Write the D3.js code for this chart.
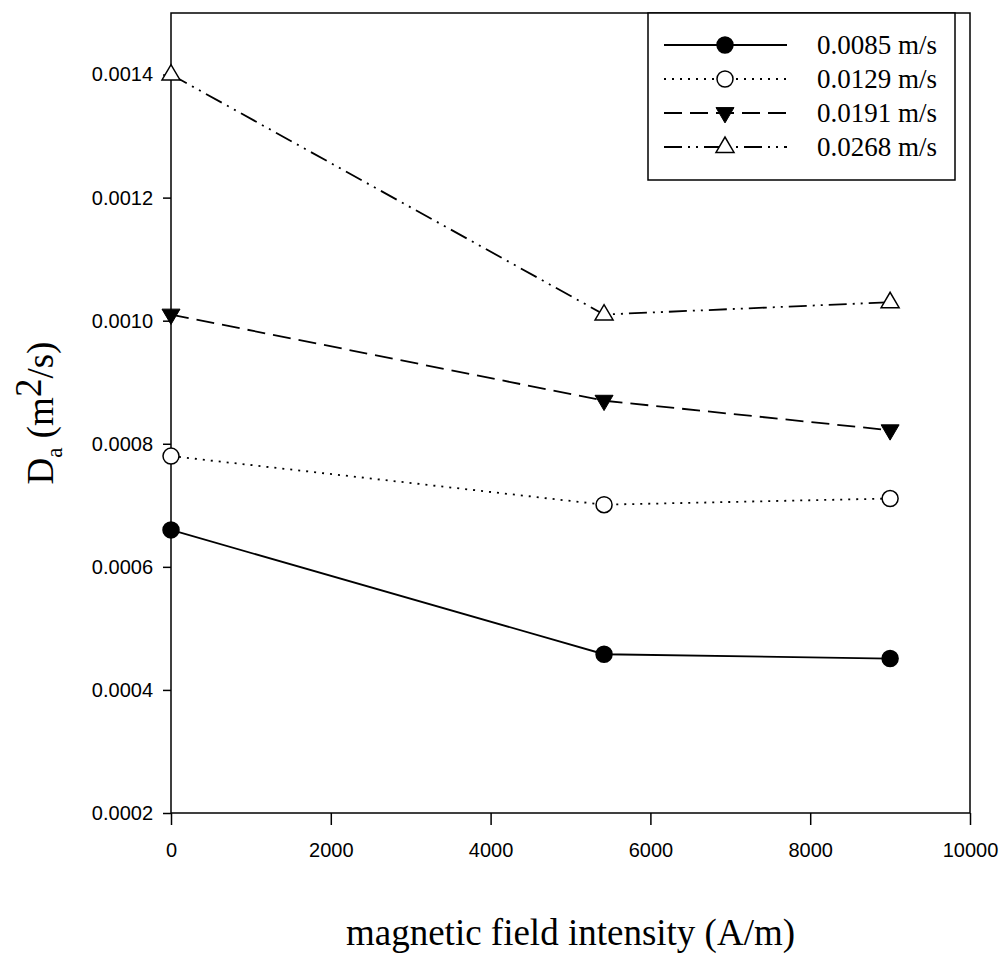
<!DOCTYPE html>
<html>
<head>
<meta charset="utf-8">
<script src="https://cdn.jsdelivr.net/npm/d3@7"></script>
<style>
  html, body { margin: 0; padding: 0; background: #fff; }
  svg { display: block; }
</style>
</head>
<body>
<svg id="chart" width="1006" height="956"></svg>
<script>
// ---- data ----
const fieldIntensity = [0, 5420, 9000];
const seriesNames = ["0.0085 m/s", "0.0129 m/s", "0.0191 m/s", "0.0268 m/s"];
const v0085 = [0.00066, 0.000458, 0.000451];
const v0129 = [0.00078, 0.000701, 0.000711];
const v0191 = [0.00101, 0.00087, 0.000822];
const v0268 = [0.0014, 0.00101, 0.00103];
const xTicks = [0, 2000, 4000, 6000, 8000, 10000];
const yTicks = [0.0002, 0.0004, 0.0006, 0.0008, 0.0010, 0.0012, 0.0014];

const seriesValues = [v0085, v0129, v0191, v0268];
const dashes = [null, "2,6", "18,8", "18,6,2,6,2,6"];
const markers = ["circleFilled", "circleOpen", "triDownFilled", "triUpOpen"];

const svg = d3.select("#chart");
const L = 171, R = 970, T = 13, B = 813;

const x = d3.scaleLinear().domain([0, 10000]).range([L, R]);
const y = d3.scaleLinear().domain([0.0002, 0.0015]).range([B, T]);

// frame
svg.append("rect").attr("x", L).attr("y", T).attr("width", R - L).attr("height", B - T)
  .attr("fill", "none").attr("stroke", "#000").attr("stroke-width", 1.5);

// axes
const xAxis = d3.axisBottom(x).tickValues(xTicks).tickSize(12).tickPadding(18).tickFormat(d3.format("d"));
const gx = svg.append("g").attr("transform", `translate(0,${B})`).call(xAxis);
const yAxis = d3.axisLeft(y).tickValues(yTicks).tickSize(8).tickPadding(10).tickFormat(d3.format(".4f"));
const gy = svg.append("g").attr("transform", `translate(${L},0)`).call(yAxis);
[gx, gy].forEach(g => {
  g.select(".domain").remove();
  g.selectAll(".tick line").attr("stroke", "#000").attr("stroke-width", 1.5);
  g.selectAll(".tick text").attr("font-family", "Liberation Sans, Arial, sans-serif")
    .attr("font-size", 20).attr("fill", "#000");
});

// marker drawer
function drawMarker(g, type, cx, cy) {
  const r = 8;
  if (type === "circleFilled" || type === "circleOpen") {
    g.append("circle").attr("cx", cx).attr("cy", cy).attr("r", r)
      .attr("fill", type === "circleFilled" ? "#000" : "#fff")
      .attr("stroke", "#000").attr("stroke-width", 1.5);
  } else if (type === "triDownFilled") {
    const s = 9;
    g.append("path").attr("d", `M${cx - s},${cy - s * 0.6}L${cx + s},${cy - s * 0.6}L${cx},${cy + s * 1.1}Z`)
      .attr("fill", "#000").attr("stroke", "#000").attr("stroke-width", 1);
  } else {
    const s = 9;
    g.append("path").attr("d", `M${cx - s},${cy + s * 0.6}L${cx + s},${cy + s * 0.6}L${cx},${cy - s * 1.1}Z`)
      .attr("fill", "#fff").attr("stroke", "#000").attr("stroke-width", 1.5);
  }
}

const line = d3.line().x(d => x(d[0])).y(d => y(d[1]));

seriesValues.forEach((vals, i) => {
  const pts = fieldIntensity.map((fx, j) => [fx, vals[j]]);
  const g = svg.append("g");
  const p = g.append("path").attr("d", line(pts)).attr("fill", "none")
    .attr("stroke", "#000").attr("stroke-width", 1.8);
  if (dashes[i]) p.attr("stroke-dasharray", dashes[i]);
  pts.forEach(d => drawMarker(g, markers[i], x(d[0]), y(d[1])));
});

// legend
const lg = svg.append("g");
lg.append("rect").attr("x", 648).attr("y", 13).attr("width", 307).attr("height", 167)
  .attr("fill", "#fff").attr("stroke", "#000").attr("stroke-width", 1.5);
const rowY = [45, 79, 113, 147];
seriesNames.forEach((name, i) => {
  const ly = rowY[i];
  const l = lg.append("line").attr("x1", 664).attr("x2", 787).attr("y1", ly).attr("y2", ly)
    .attr("stroke", "#000").attr("stroke-width", 1.8);
  if (dashes[i]) l.attr("stroke-dasharray", dashes[i]);
  drawMarker(lg, markers[i], 725, ly);
  lg.append("text").attr("x", 817).attr("y", ly).attr("dy", "0.35em")
    .attr("font-family", "Liberation Serif, Times New Roman, serif").attr("font-size", 27)
    .text(name);
});

// axis titles
svg.append("text").attr("x", (L + R) / 2).attr("y", 945).attr("text-anchor", "middle")
  .attr("font-family", "Liberation Serif, Times New Roman, serif").attr("font-size", 37)
  .text("magnetic field intensity (A/m)");

const yt = svg.append("text").attr("transform", `translate(53,${(T + B) / 2}) rotate(-90)`)
  .attr("text-anchor", "middle")
  .attr("font-family", "Liberation Serif, Times New Roman, serif").attr("font-size", 37);
yt.append("tspan").text("D");
yt.append("tspan").attr("font-size", 23).attr("dy", 9).text("a");
yt.append("tspan").attr("dy", -9).text(" (m");
yt.append("tspan").attr("dy", -12).text("2");
yt.append("tspan").attr("dy", 12).text("/s)");
</script>
</body>
</html>
